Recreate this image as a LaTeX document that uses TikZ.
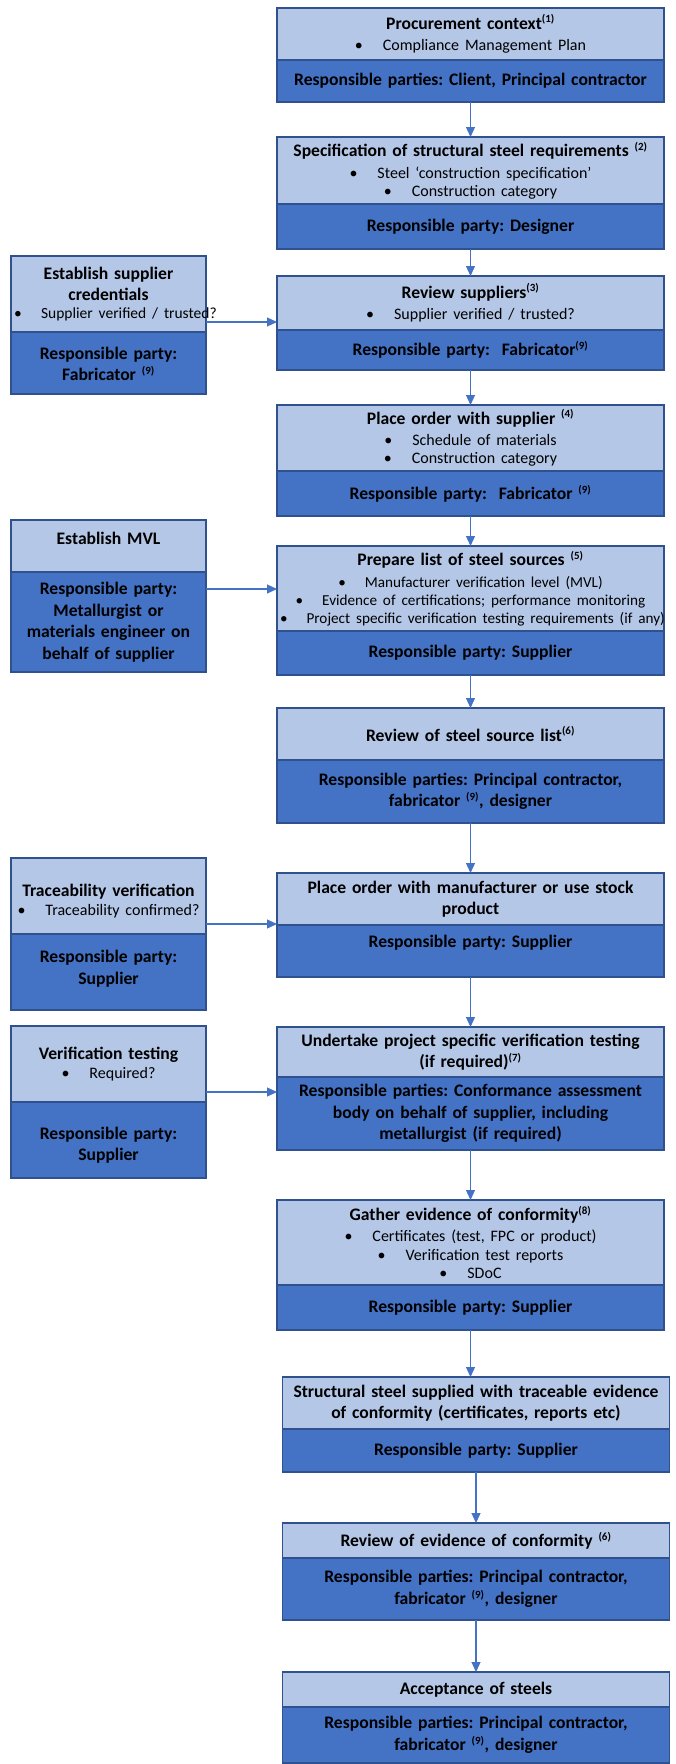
\documentclass[tikz,border=0pt]{standalone}
\usepackage{fontspec}
\setmainfont{Carlito}
\usetikzlibrary{positioning,arrows.meta}

\definecolor{lightblue}{HTML}{B4C7E7}
\definecolor{darkblue}{HTML}{4472C4}
\definecolor{boxline}{HTML}{2F528F}

\frenchspacing
\newcommand{\supref}[1]{\textsuperscript{\fontsize{11}{12}\selectfont(#1)}}
\newcommand{\bul}[2][16]{\mbox{\fontsize{#1}{18}\selectfont\mdseries\textbullet\hspace{1.25em}#2}}

\tikzset{
  part/.style={draw=boxline, line width=1.3pt, rectangle, outer sep=0pt, inner xsep=3pt, inner ysep=3pt,
    align=center, font=\fontsize{17.6}{21.5}\selectfont\bfseries},
  upper/.style={part, fill=lightblue},
  lower/.style={part, fill=darkblue},
  wide/.style={minimum width=387pt, text width=381pt},
  narrow/.style={minimum width=195pt, text width=189pt},
  lift/.style={text depth=#1},
  flow/.style={draw=darkblue, line width=1.2pt, -{Triangle[length=10pt,width=9pt]}}
}

\begin{document}
\begin{tikzpicture}[x=1pt,y=-1pt]
	\useasboundingbox (0,0) rectangle (676,1764);

	% main column
	\node[upper, wide, minimum height=52pt] (t1) at (470.5,34) {Procurement context\supref{1}\\\bul{Compliance Management Plan}};
	\node[lower, wide, minimum height=42pt, below=0pt of t1] (r1) {Responsible parties: Client, Principal contractor};

	\node[upper, wide, minimum height=67pt] (t2) at (470.5,170.5) {Specification of structural steel requirements \supref{2}\\\bul{Steel ‘construction specification’}\\[-3.5pt]\bul{Construction category}};
	\node[lower, wide, minimum height=45pt, below=0pt of t2] (r2) {Responsible party: Designer};

	\node[upper, wide, minimum height=54pt] (t3) at (470.5,303) {Review suppliers\supref{3}\\\bul{Supplier verified / trusted?}};
	\node[lower, wide, minimum height=40pt, below=0pt of t3] (r3) {Responsible party:\ \ Fabricator\supref{9}};

	\node[upper, wide, minimum height=66pt] (t4) at (470.5,438) {Place order with supplier \supref{4}\\\bul{Schedule of materials}\\[-3.5pt]\bul{Construction category}};
	\node[lower, wide, minimum height=45pt, below=0pt of t4] (r4) {Responsible party:\ \ Fabricator \supref{9}};

	\node[upper, wide, minimum height=85pt] (t5) at (470.5,588.5) {Prepare list of steel sources \supref{5}\\\bul[15.2]{Manufacturer verification level (MVL)}\\[-3.5pt]\bul[15.2]{Evidence of certifications; performance monitoring}\\[-3.5pt]\bul[15.2]{Project specific verification testing requirements (if any)}};
	\node[lower, wide, minimum height=44pt, below=0pt of t5] (r5) {Responsible party: Supplier};

	\node[upper, wide, minimum height=52pt] (t6) at (470.5,734) {Review of steel source list\supref{6}};
	\node[lower, wide, minimum height=63pt, below=0pt of t6] (r6) {Responsible parties: Principal contractor,\\fabricator \supref{9}, designer};

	\node[upper, wide, minimum height=52pt] (t7) at (470.5,899) {Place order with manufacturer or use stock\\product};
	\node[lower, wide, minimum height=52pt, lift=19.5pt, below=0pt of t7] (r7) {Responsible party: Supplier};

	\node[upper, wide, minimum height=50pt] (t8) at (470.5,1052) {Undertake project specific verification testing\\(if required)\supref{7}};
	\node[lower, wide, minimum height=73pt, below=0pt of t8] (r8) {Responsible parties: Conformance assessment\\body on behalf of supplier, including\\metallurgist (if required)};

	\node[upper, wide, minimum height=85pt] (t9) at (470.5,1242.5) {Gather evidence of conformity\supref{8}\\\bul{Certificates (test, FPC or product)}\\[-3pt]\bul{Verification test reports}\\[-3pt]\bul{SDoC}};
	\node[lower, wide, minimum height=45pt, below=0pt of t9] (r9) {Responsible party: Supplier};

	\node[upper, wide, minimum height=52pt] (t10) at (476,1403) {Structural steel supplied with traceable evidence\\of conformity (certificates, reports etc)};
	\node[lower, wide, minimum height=43pt, below=0pt of t10] (r10) {Responsible party: Supplier};

	\node[upper, wide, minimum height=35pt] (t11) at (476,1540.5) {Review of evidence of conformity \supref{6}};
	\node[lower, wide, minimum height=62pt, below=0pt of t11] (r11) {Responsible parties: Principal contractor,\\fabricator \supref{9}, designer};

	\node[upper, wide, minimum height=35pt] (t12) at (476,1689.5) {Acceptance of steels};
	\node[lower, wide, minimum height=56pt, below=0pt of t12] (r12) {Responsible parties: Principal contractor,\\fabricator \supref{9}, designer};

	% side column
	\node[upper, narrow, minimum height=76pt] (sc) at (108.5,294) {Establish supplier\\credentials\\[-3.5pt]\bul[15.5]{Supplier verified / trusted?}};
	\node[lower, narrow, minimum height=62pt, lift=19.5pt, below=0pt of sc] (scr) {Responsible party:\\Fabricator \supref{9}};

	\node[upper, narrow, minimum height=52pt, lift=15.5pt] (mvl) at (108.5,546) {Establish MVL};
	\node[lower, narrow, minimum height=100pt, below=0pt of mvl] (mvlr) {Responsible party:\\Metallurgist or\\materials engineer on\\behalf of supplier};

	\node[upper, narrow, minimum height=76pt, lift=11pt] (tv) at (108.5,896) {Traceability verification\\[-3pt]\bul{Traceability confirmed?}};
	\node[lower, narrow, minimum height=76pt, lift=31pt, below=0pt of tv] (tvr) {Responsible party:\\Supplier};

	\node[upper, narrow, minimum height=76pt] (vt) at (108.5,1064) {Verification testing\\[-3pt]\bul{Required?}};
	\node[lower, narrow, minimum height=76pt, lift=13.5pt, below=0pt of vt] (vtr) {Responsible party:\\Supplier};

	% main flow
	\draw[flow] (r1.south) -- (r1.south |- t2.north);
	\draw[flow] (r2.south) -- (r2.south |- t3.north);
	\draw[flow] (r3.south) -- (r3.south |- t4.north);
	\draw[flow] (r4.south) -- (r4.south |- t5.north);
	\draw[flow] (r5.south) -- (r5.south |- t6.north);
	\draw[flow] (r6.south) -- (r6.south |- t7.north);
	\draw[flow] (r7.south) -- (r7.south |- t8.north);
	\draw[flow] (r8.south) -- (r8.south |- t9.north);
	\draw[flow] (r9.south) -- (r9.south |- t10.north);
	\draw[flow] (r10.south) -- (r10.south |- t11.north);
	\draw[flow] (r11.south) -- (r11.south |- t12.north);

	% inputs from the side
	\coordinate (scout) at ([yshift=10pt]scr.north east);
	\coordinate (mvlout) at ([yshift=-17pt]mvlr.north east);
	\coordinate (tvout) at ([yshift=10pt]tvr.north east);
	\coordinate (vtout) at ([yshift=10pt]vtr.north east);
	\draw[flow] (scout) -- (scout -| t3.west);
	\draw[flow] (mvlout) -- (mvlout -| t5.west);
	\draw[flow] (tvout) -- (tvout -| t7.west);
	\draw[flow] (vtout) -- (vtout -| t8.west);
\end{tikzpicture}
\end{document}
